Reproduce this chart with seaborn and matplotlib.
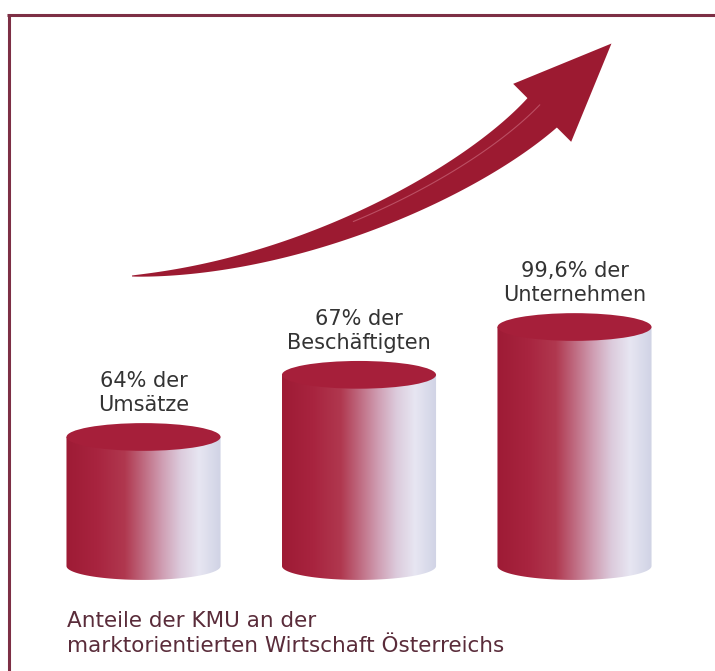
import numpy as np
import pandas as pd
import matplotlib
matplotlib.use("Agg")
import matplotlib.pyplot as plt
import seaborn as sns
from matplotlib.colors import LinearSegmentedColormap
from matplotlib.patches import Ellipse, PathPatch, Polygon
from matplotlib.path import Path

# chart data
categories = ["Umsätze", "Beschäftigten", "Unternehmen"]
shares = ["64%", "67%", "99,6%"]
bar_levels = [54, 80, 100]  # relative cylinder height as drawn in the picture
caption = "Anteile der KMU an der\nmarktorientierten Wirtschaft Österreichs"

crimson = "#a61f3a"
arrow_red = "#9c1a31"
border_col = "#7d2f45"
text_col = "#333333"
caption_col = "#5a2c3a"

body_cmap = LinearSegmentedColormap.from_list("cyl", [
    (0.0, "#9e1b35"), (0.2, "#a8243f"), (0.38, "#b0384f"), (0.5, "#bf6a80"),
    (0.62, "#cf9db2"), (0.74, "#dccbdc"), (0.86, "#e7e6f2"), (1.0, "#d0d3e5")])

sns.set_theme(style="white")
plt.rcParams["font.family"] = ["DejaVu Sans"]

fig = plt.figure(figsize=(7.15, 6.71), dpi=100)
ax = fig.add_axes([0, 0, 1, 1])

df = pd.DataFrame({"category": categories, "level": bar_levels})
sns.barplot(data=df, x="category", y="level", width=0.715, ax=ax)

ry = 5.8  # ellipse half height in data units
for i, p in enumerate(ax.patches):
    x0, w, h = p.get_x(), p.get_width(), p.get_height()
    p.set_visible(False)
    xc, a = x0 + w / 2, w / 2
    t = np.linspace(0, np.pi, 60)
    verts = [(x0, h), (x0, 0)]
    verts += list(zip(xc - a * np.cos(t), -ry * np.sin(t)))
    verts += [(x0 + w, h), (x0, h)]
    body = PathPatch(Path(verts), fc="none", ec="none")
    ax.add_patch(body)
    grad = np.linspace(0, 1, 256).reshape(1, -1)
    im = ax.imshow(grad, cmap=body_cmap, extent=(x0, x0 + w, -ry, h),
                   aspect="auto", origin="lower", zorder=2)
    im.set_clip_path(body)
    ax.add_patch(Ellipse((xc, h), w, 2 * ry, fc=crimson, ec="none", zorder=3))
    ax.text(xc, h + ry + 3.2, f"{shares[i]} der\n{categories[i]}", ha="center",
            va="bottom", fontsize=15, color=text_col, linespacing=1.25, zorder=4)

ax.set_xlim(-0.666, 2.652)
ax.set_ylim(-43.9, 236.8)
ax.axis("off")

# overlay in pixel coordinates for the arrow, frame and caption
ov = fig.add_axes([0, 0, 1, 1], facecolor="none")
ov.set_xlim(0, 715)
ov.set_ylim(671, 0)
ov.axis("off")

P = np.array([[132, 276], [302, 268], [475, 180], [545, 110]], dtype=float)
tt = np.linspace(0, 1, 200)[:, None]
curve = ((1 - tt) ** 3 * P[0] + 3 * (1 - tt) ** 2 * tt * P[1]
         + 3 * (1 - tt) * tt ** 2 * P[2] + tt ** 3 * P[3])
tang = (3 * (1 - tt) ** 2 * (P[1] - P[0]) + 6 * (1 - tt) * tt * (P[2] - P[1])
        + 3 * tt ** 2 * (P[3] - P[2]))
tang /= np.linalg.norm(tang, axis=1, keepdims=True)
norm = np.column_stack([-tang[:, 1], tang[:, 0]])
half = (0.5 + 20.5 * tt[:, 0] ** 0.85)[:, None]
shaft = np.vstack([curve + norm * half, (curve - norm * half)[::-1]])
ov.add_patch(Polygon(shaft, closed=True, fc=arrow_red, ec="none"))
d, n = tang[-1], norm[-1]
head = np.array([P[3] - d * 4 + n * 41, P[3] + d * 94, P[3] - d * 4 - n * 41])
ov.add_patch(Polygon(head, closed=True, fc=arrow_red, ec="none"))
ov.plot(*(curve[90:] - norm[90:] * half[90:] * 0.35).T, color="#d07284",
        lw=0.8, alpha=0.6)

ov.plot([7, 715], [14.5, 14.5], color=border_col, lw=2.2, solid_capstyle="butt")
ov.plot([8.5, 8.5], [13.5, 671], color=border_col, lw=2.2, solid_capstyle="butt")

ov.text(67, 652, caption, ha="left", va="baseline", fontsize=15.5,
        color=caption_col, linespacing=1.3)

fig.savefig("out.png", dpi=100)
